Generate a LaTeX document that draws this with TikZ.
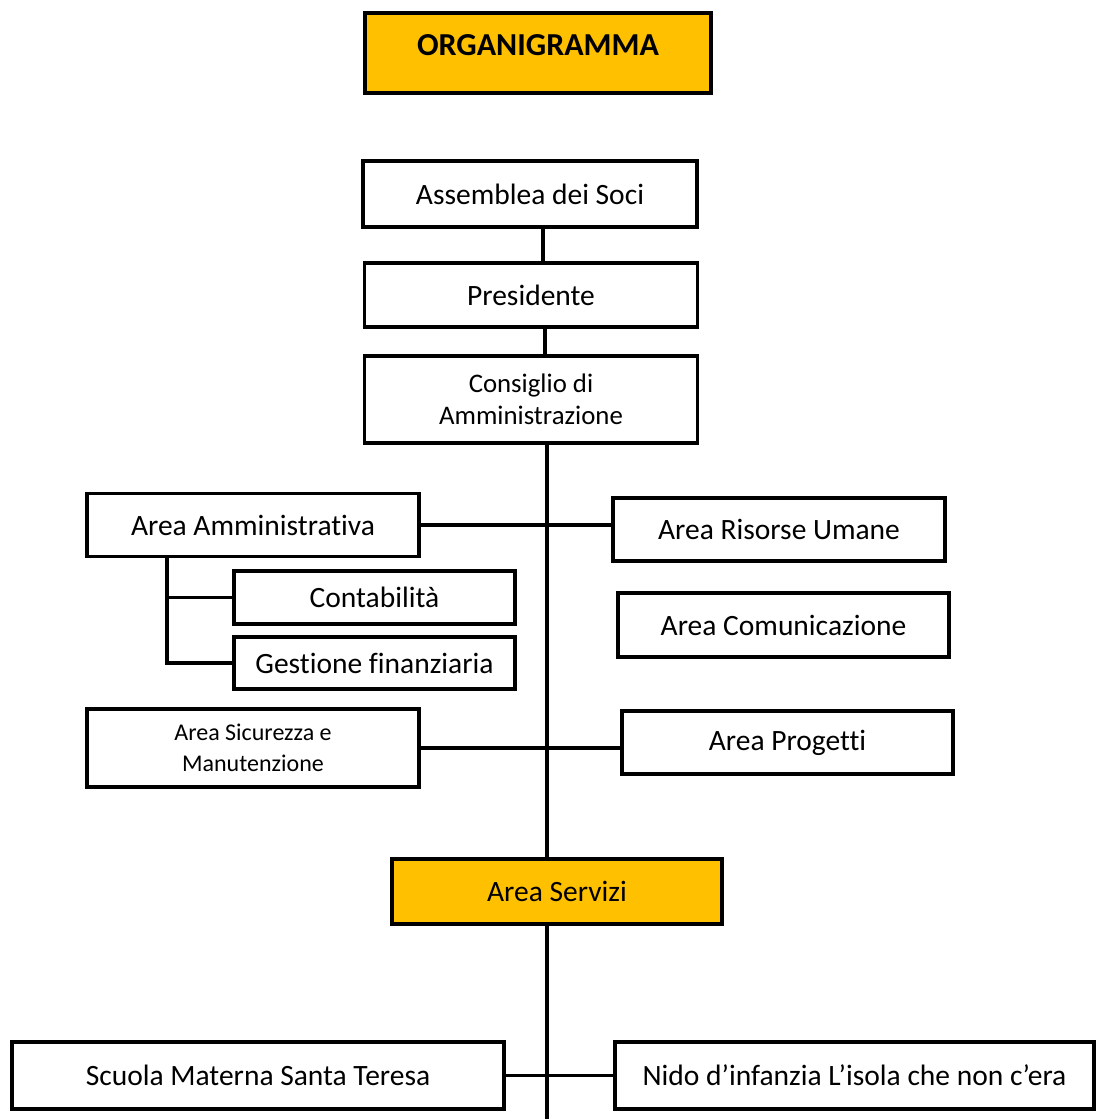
\documentclass[tikz,border=0pt]{standalone}
\usepackage{fontspec}
\setmainfont[Ligatures=CommonOff]{Carlito}
\usepackage{tikz}
\usetikzlibrary{positioning, calc}
\definecolor{oro}{HTML}{FFC000}

\begin{document}
\begin{tikzpicture}[x=1pt, y=-1pt, line width=3.3pt,
    box/.style={draw, rectangle, inner sep=0pt, align=center, font=\fontsize{29.5}{34}\selectfont},
    gold/.style={box, fill=oro}]
    \useasboundingbox (0, 0) rectangle (1096, 1119);

    \node[gold, line width=4.5pt, minimum width=346, text height=42pt, text depth=38pt,
          font=\bfseries\fontsize{32}{38}\selectfont] (titolo) at (538, 53) {ORGANIGRAMMA};

    \node[box, minimum width=334, minimum height=66] (asm) at (530, 194) {Assemblea dei Soci};
    \node[box, minimum width=333, minimum height=64] (pres) at (531, 295) {Presidente};
    \node[box, minimum width=333, minimum height=87, font=\fontsize{26.8}{32}\selectfont] (cda) at (531, 399.5) {Consiglio di\\Amministrazione};

    \node[box, minimum width=332, minimum height=63] (amm) at (253, 525) {Area Amministrativa};
    \node[box, minimum width=281, minimum height=53] (cont) at (374.5, 597.5) {Contabilità};
    \node[box, minimum width=281, minimum height=52] (gest) at (374.5, 663) {Gestione finanziaria};
    \node[box, minimum width=332, minimum height=78, font=\fontsize{24}{31}\selectfont] (sic) at (253, 748) {Area Sicurezza e\\Manutenzione};

    \node[box, minimum width=332, minimum height=63] (ru) at (779, 529.5) {Area Risorse Umane};
    \node[box, minimum width=331, minimum height=64] (com) at (783.5, 625) {Area Comunicazione};
    \node[box, minimum width=331, minimum height=63] (prog) at (787.5, 742.5) {Area Progetti};

    \node[gold, minimum width=330, minimum height=65] (serv) at (557, 891.5) {Area Servizi};

    \node[box, minimum width=492, minimum height=67] (scu) at (258, 1075.5) {Scuola Materna Santa Teresa};
    \node[box, minimum width=479, minimum height=67] (nido) at (854.5, 1075.5) {Nido d’infanzia L’isola che non c’era};

    \coordinate (a1) at (543, 0);
    \coordinate (a2) at (545, 0);
    \coordinate (spine) at (547, 0);
    \coordinate (brk) at (167, 0);
    \coordinate (fine) at (547, 1119);

    \draw (asm.south -| a1) -- (pres.north -| a1);
    \draw (pres.south -| a2) -- (cda.north -| a2);
    \draw (cda.south -| spine) -- (serv.north -| spine);
    \draw (serv.south -| spine) -- (fine);

    \draw (amm.east) -- (amm.east -| ru.west);
    \draw (sic.east) -- (sic.east -| prog.west);
    \draw (scu.east) -- (nido.west);

    \draw (amm.south -| brk) |- (gest.west);
    \draw (cont.west) -- (cont.west -| brk);
\end{tikzpicture}
\end{document}
